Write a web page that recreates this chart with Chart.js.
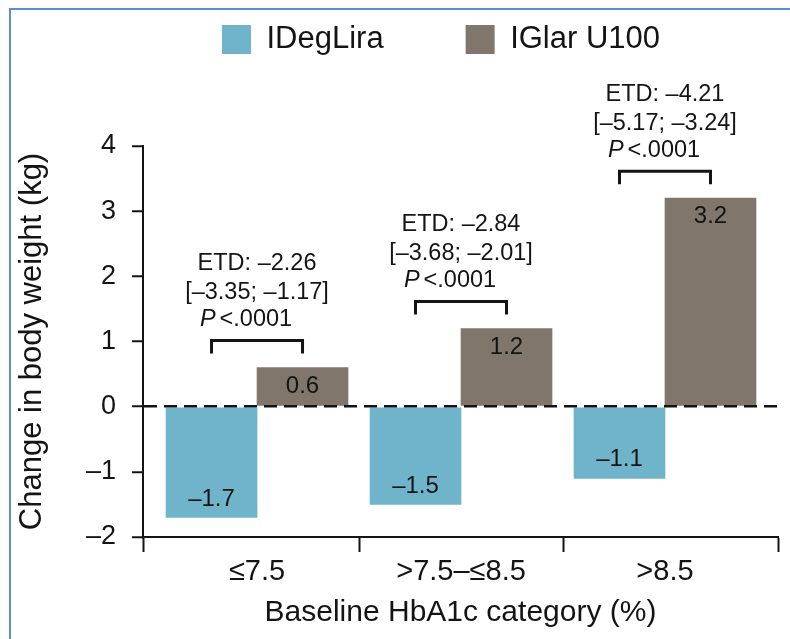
<!DOCTYPE html>
<html>
<head>
<meta charset="utf-8">
<script src="https://cdn.jsdelivr.net/npm/chart.js@4.4.0/dist/chart.umd.min.js"></script>
<style>
html,body{margin:0;padding:0;background:#fff;overflow:hidden;}
#wrap{position:absolute;left:0;top:0;width:790px;height:639px;}
#frame{position:absolute;left:9px;top:8px;right:0;bottom:0;border-top:2px solid #5b8dd1;border-left:2px solid #5b8dd1;pointer-events:none;}
</style>
</head>
<body>
<div id="wrap"><canvas id="c"></canvas></div>
<div id="frame"></div>
<script>
// ---- data ----
const categories = ['\u22647.5', '>7.5\u2013\u22648.5', '>8.5'];
const seriesNames = ['IDegLira', 'IGlar U100'];
const ideglira = [-1.7, -1.5, -1.1];
const iglar = [0.6, 1.2, 3.2];
const etdLabels = ['ETD: \u20132.26', 'ETD: \u20132.84', 'ETD: \u20134.21'];
const ciLabels = ['[\u20133.35; \u20131.17]', '[\u20133.68; \u20132.01]', '[\u20135.17; \u20133.24]'];
const pLabels = ['<.0001', '<.0001', '<.0001'];
const yTickValues = [-2, -1, 0, 1, 2, 3, 4];

// ---- style ----
const FONT = '"Liberation Sans", Arial, Helvetica, sans-serif';
const INK = '#141414';
const COLORS = ['#70b4cc', '#80766c'];
const X_MIN = -0.559, X_MAX = 2.554;

Chart.defaults.font.family = FONT;
Chart.defaults.color = INK;

const xTickValues = [X_MIN];
categories.forEach((c, i) => { xTickValues.push(i); if (i < categories.length - 1) xTickValues.push(i + 0.5); });
xTickValues.push(X_MAX);

const fmt = v => (v < 0 ? '\u2013' + Math.abs(v).toFixed(1) : v.toFixed(1));

const legendShift = {
  id: 'legendShift',
  afterLayout(chart) {
    const l = chart.legend;
    if (l) { l.left += 52; l.right += 52; }
  }
};

const valueLabels = {
  id: 'valueLabels',
  afterDatasetsDraw(chart) {
    const ctx = chart.ctx;
    ctx.save();
    ctx.font = '24px ' + FONT;
    ctx.fillStyle = INK;
    ctx.textAlign = 'center';
    ctx.textBaseline = 'middle';
    chart.data.datasets.forEach((ds, di) => {
      chart.getDatasetMeta(di).data.forEach((bar, i) => {
        const v = ds.data[i].y;
        const ty = bar.y + (v >= 0 ? 18.5 : -18.5);
        ctx.fillText(fmt(v), bar.x, ty);
      });
    });
    ctx.restore();
  }
};

const annotations = {
  id: 'annotations',
  afterDatasetsDraw(chart) {
    const ctx = chart.ctx, yS = chart.scales.y;
    const m0 = chart.getDatasetMeta(0), m1 = chart.getDatasetMeta(1);
    categories.forEach((c, i) => {
      const a = m0.data[i], b = m1.data[i];
      const topVal = Math.max(ideglira[i], iglar[i], 0);
      const yb = yS.getPixelForValue(topVal) - 27;
      ctx.save();
      ctx.strokeStyle = INK; ctx.lineWidth = 3; ctx.lineJoin = 'miter'; ctx.lineCap = 'butt';
      ctx.beginPath();
      ctx.moveTo(a.x, yb + 13); ctx.lineTo(a.x, yb); ctx.lineTo(b.x, yb); ctx.lineTo(b.x, yb + 13);
      ctx.stroke();
      const cx = (a.x + b.x) / 2;
      ctx.fillStyle = INK; ctx.textBaseline = 'middle'; ctx.textAlign = 'center';
      ctx.font = '23.5px ' + FONT;
      ctx.fillText(etdLabels[i], cx, yb - 77);
      ctx.fillText(ciLabels[i], cx, yb - 48);
      ctx.textAlign = 'left';
      ctx.font = 'italic 23.5px ' + FONT;
      const wP = ctx.measureText('P').width;
      ctx.font = '23.5px ' + FONT;
      const wR = ctx.measureText(pLabels[i]).width;
      const gap = 4;
      const x0 = cx - 11 - (wP + gap + wR) / 2;
      ctx.font = 'italic 23.5px ' + FONT;
      ctx.fillText('P', x0, yb - 21);
      ctx.font = '23.5px ' + FONT;
      ctx.fillText(pLabels[i], x0 + wP + gap, yb - 21);
      ctx.restore();
    });
  }
};

new Chart(document.getElementById('c'), {
  type: 'bar',
  data: {
    datasets: [
      { label: seriesNames[0], data: categories.map((c, i) => ({ x: i, y: ideglira[i] })),
        backgroundColor: COLORS[0], borderColor: COLORS[0], borderWidth: 0 },
      { label: seriesNames[1], data: categories.map((c, i) => ({ x: i, y: iglar[i] })),
        backgroundColor: COLORS[1], borderColor: COLORS[1], borderWidth: 0 }
    ]
  },
  options: {
    responsive: true,
    maintainAspectRatio: false,
    animation: false,
    devicePixelRatio: 1,
    events: [],
    barThickness: 91,
    layout: { padding: { top: -58, left: 0, right: 12, bottom: 0 } },
    plugins: {
      legend: {
        display: true, position: 'top', align: 'center',
        labels: { boxWidth: 29, boxHeight: 29, padding: 82, color: INK, font: { size: 31 } }
      },
      title: { display: true, text: '', weight: 500, font: { size: 1 }, padding: { top: 0, bottom: 79.8 } },
      tooltip: { enabled: false }
    },
    scales: {
      x: {
        type: 'linear', min: X_MIN, max: X_MAX, offset: false,
        afterBuildTicks: s => { s.ticks = xTickValues.map(v => ({ value: v })); },
        afterFit: s => { s.height = 102; },
        grid: {
          offset: false, drawOnChartArea: false, drawTicks: true, tickLength: 15, tickWidth: 2,
          tickColor: c => (c.tick && Number.isInteger(c.tick.value)) ? 'rgba(0,0,0,0)' : INK
        },
        border: { display: true, color: INK, width: 2 },
        ticks: {
          autoSkip: false, maxRotation: 0, minRotation: 0, padding: 3, color: INK, font: { size: 29 },
          callback: v => Number.isInteger(v) && categories[v] !== undefined ? categories[v] : ''
        },
        title: { display: true, text: 'Baseline HbA1c category (%)', color: INK, font: { size: 30 },
                 padding: { top: 0, bottom: 8.5 } }
      },
      y: {
        min: yTickValues[0], max: yTickValues[yTickValues.length - 1],
        afterBuildTicks: s => { s.ticks = yTickValues.map(v => ({ value: v })); },
        afterFit: s => { s.width = 143; },
        ticks: { padding: 16, color: INK, font: { size: 27 },
                 callback: v => (v < 0 ? '\u2013' + Math.abs(v) : String(v)) },
        grid: {
          z: 1, drawTicks: true, tickLength: 11, tickWidth: 2, tickColor: INK, lineWidth: 2.5,
          color: c => (c.tick && c.tick.value === 0) ? INK : 'rgba(0,0,0,0)'
        },
        border: { display: true, color: INK, width: 2, dash: [13, 7], z: 1 },
        title: { display: true, text: 'Change in body weight (kg)', color: INK, font: { size: 31 },
                 padding: { top: 14, bottom: 0 } }
      }
    }
  },
  plugins: [legendShift, valueLabels, annotations]
});
</script>
</body>
</html>
